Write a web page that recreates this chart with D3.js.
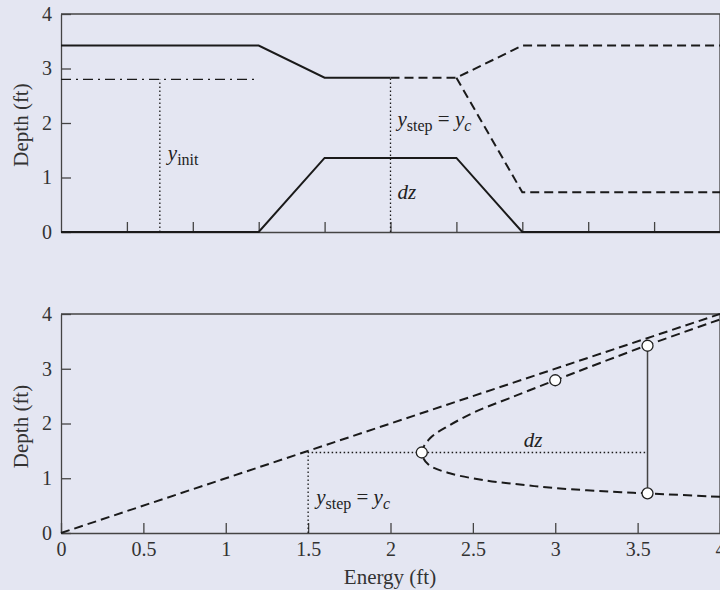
<!DOCTYPE html>
<html>
<head>
<meta charset="utf-8">
<script src="https://cdn.jsdelivr.net/npm/d3@7"></script>
<style>
  body { margin: 0; background: #e4e6f2; }
  svg { display: block; font-family: "Liberation Serif", "DejaVu Serif", serif; }
</style>
</head>
<body>
<svg width="720" height="590"></svg>
<script>
// top panel: channel profile (distance units 0..10, depth ft)
const waterUp = [[0, 3.42], [3, 3.42], [4, 2.83], [5, 2.83]];
const waterDown = [[5, 2.83], [6, 2.83], [7, 3.42], [10, 3.42]];
const waterSuper = [[6, 2.83], [7, 0.73], [10, 0.73]];
const bed = [[0, 0], [3, 0], [4, 1.36], [6, 1.36], [7, 0], [10, 0]];
const yInit = 2.8, yInitX = 1.5, initEnd = 3;
const stepX = 5, yStep = 2.83;
const topXTicks = [1, 2, 3, 4, 5, 6, 7, 8, 9];

// bottom panel: specific energy diagram (energy ft, depth ft)
const asymptote = [[0, 0], [4, 4]];
const energyCurve = [
  [4.0, 0.66], [3.55, 0.725], [3.4, 0.745], [3.0, 0.82], [2.8, 0.88],
  [2.58, 0.96], [2.36, 1.09], [2.23, 1.25], [2.19, 1.47], [2.24, 1.73],
  [2.36, 1.97], [2.52, 2.22], [2.72, 2.46], [3.0, 2.79], [3.55, 3.42], [4.0, 3.9]
];
const markers = [[2.19, 1.47], [3.0, 2.79], [3.56, 3.42], [3.56, 0.725]];
const eStep = 1.5, yc = 1.47, eJump = 3.56;
const energyTicks = [0, 0.5, 1, 1.5, 2, 2.5, 3, 3.5, 4];
const depthTicks = [0, 1, 2, 3, 4];

const svg = d3.select("svg");
const left = 61, right = 720;
const serif = '"Liberation Serif", "DejaVu Serif", serif';

const xTop = d3.scaleLinear().domain([0, 10]).range([left, right]);
const yTop = d3.scaleLinear().domain([0, 4]).range([232, 14]);
const xBot = d3.scaleLinear().domain([0, 4]).range([left, right]);
const yBot = d3.scaleLinear().domain([0, 4]).range([533, 314]);

function frame(x, y) {
  svg.append("path")
    .attr("d", "M" + x.range()[0] + "," + y.range()[1] + "H" + x.range()[1] + "V" + y.range()[0])
    .attr("fill", "none").attr("stroke", "#444").attr("stroke-width", 1.3);
}

function styleAxis(g) {
  g.selectAll("path, line").attr("stroke", "#444").attr("stroke-width", 1.3);
  g.selectAll("text").style("font-family", serif).style("font-size", "20px").attr("fill", "#333");
}

// ---------- top panel ----------
frame(xTop, yTop);
svg.append("g")
  .attr("transform", "translate(0," + yTop(0) + ")")
  .call(d3.axisBottom(xTop).tickValues(topXTicks).tickSize(-10).tickSizeOuter(0).tickFormat(""))
  .call(styleAxis);
svg.append("g")
  .attr("transform", "translate(" + left + ",0)")
  .call(d3.axisLeft(yTop).tickValues(depthTicks).tickSize(-10).tickSizeOuter(0).tickPadding(9).tickFormat(d3.format("d")))
  .call(styleAxis);

const lTop = d3.line().x(d => xTop(d[0])).y(d => yTop(d[1]));

svg.append("path").attr("d", lTop(bed))
  .attr("fill", "none").attr("stroke", "#1a1a1a").attr("stroke-width", 2);
svg.append("path").attr("d", lTop(waterUp))
  .attr("fill", "none").attr("stroke", "#1a1a1a").attr("stroke-width", 2);
[waterDown, waterSuper].forEach(s => {
  svg.append("path").attr("d", lTop(s))
    .attr("fill", "none").attr("stroke", "#1a1a1a").attr("stroke-width", 2)
    .attr("stroke-dasharray", "9,5");
});
svg.append("path").attr("d", lTop([[0, yInit], [initEnd, yInit]]))
  .attr("fill", "none").attr("stroke", "#1a1a1a").attr("stroke-width", 1.3)
  .attr("stroke-dasharray", "10,5,2,5");
[[yInitX, yInit], [stepX, yStep]].forEach(p => {
  svg.append("path").attr("d", lTop([[p[0], 0], p]))
    .attr("fill", "none").attr("stroke", "#1a1a1a").attr("stroke-width", 1.3)
    .attr("stroke-dasharray", "1.5,2.5");
});

function sublabel(x, y, main, sub, rest) {
  const t = svg.append("text").attr("x", x).attr("y", y)
    .attr("font-size", 21).attr("fill", "#222");
  t.append("tspan").attr("font-style", "italic").text(main);
  t.append("tspan").attr("font-size", 16).attr("dy", 5).text(sub);
  if (rest) {
    t.append("tspan").attr("dy", -5).text(" = ");
    t.append("tspan").attr("font-style", "italic").text("y");
    t.append("tspan").attr("font-size", 16).attr("dy", 5).attr("font-style", "italic").text("c");
  }
  return t;
}
sublabel(xTop(yInitX) + 8, 160, "y", "init", false);
sublabel(xTop(stepX) + 7, 126, "y", "step", true);
svg.append("text").attr("x", xTop(stepX) + 7).attr("y", 199)
  .attr("font-size", 21).attr("font-style", "italic").attr("fill", "#222").text("dz");

svg.append("text")
  .attr("transform", "translate(28," + (yTop(2) + 2) + ") rotate(-90)")
  .attr("text-anchor", "middle").attr("font-size", 21).attr("fill", "#333")
  .text("Depth (ft)");

// ---------- bottom panel ----------
frame(xBot, yBot);
svg.append("g")
  .attr("transform", "translate(0," + yBot(0) + ")")
  .call(d3.axisBottom(xBot).tickValues(energyTicks).tickSize(-10).tickSizeOuter(0).tickPadding(9)
    .tickFormat(d3.format("~g")))
  .call(styleAxis);
svg.append("g")
  .attr("transform", "translate(" + left + ",0)")
  .call(d3.axisLeft(yBot).tickValues(depthTicks).tickSize(-10).tickSizeOuter(0).tickPadding(9).tickFormat(d3.format("d")))
  .call(styleAxis);

const lBot = d3.line().x(d => xBot(d[0])).y(d => yBot(d[1]));

svg.append("path").attr("d", lBot([[eStep, 0], [eStep, yc], [eJump, yc]]))
  .attr("fill", "none").attr("stroke", "#1a1a1a").attr("stroke-width", 1.3)
  .attr("stroke-dasharray", "1.5,2.5");
svg.append("path").attr("d", lBot([[eJump, markers[3][1]], [eJump, markers[2][1]]]))
  .attr("fill", "none").attr("stroke", "#444").attr("stroke-width", 1.5);
svg.append("path").attr("d", lBot(asymptote))
  .attr("fill", "none").attr("stroke", "#1a1a1a").attr("stroke-width", 2)
  .attr("stroke-dasharray", "9,5");
svg.append("path").attr("d", lBot.curve(d3.curveCatmullRom)(energyCurve))
  .attr("fill", "none").attr("stroke", "#1a1a1a").attr("stroke-width", 2)
  .attr("stroke-dasharray", "9,5");

svg.selectAll("circle.m").data(markers).enter().append("circle")
  .attr("class", "m")
  .attr("cx", d => xBot(d[0])).attr("cy", d => yBot(d[1])).attr("r", 5.5)
  .attr("fill", "#fff").attr("stroke", "#222").attr("stroke-width", 1.3);

sublabel(xBot(eStep) + 8, 504, "y", "step", true);
svg.append("text").attr("x", 533).attr("y", 447).attr("text-anchor", "middle")
  .attr("font-size", 21).attr("font-style", "italic").attr("fill", "#222").text("dz");

svg.append("text")
  .attr("transform", "translate(28," + (yBot(2) + 3) + ") rotate(-90)")
  .attr("text-anchor", "middle").attr("font-size", 21).attr("fill", "#333")
  .text("Depth (ft)");
svg.append("text").attr("x", 390).attr("y", 584).attr("text-anchor", "middle")
  .attr("font-size", 21).attr("fill", "#333").text("Energy (ft)");
</script>
</body>
</html>
